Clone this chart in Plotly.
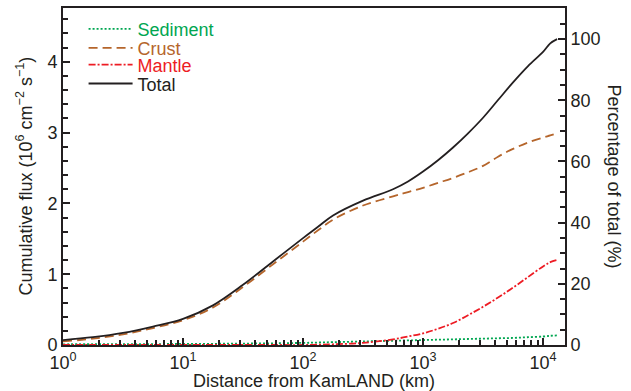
import plotly.graph_objects as go

# log10 distance (km) sample positions
log_distance = [0, 0.25, 0.5, 0.75, 1, 1.25, 1.5, 1.75, 2, 2.125, 2.25, 2.5, 2.75, 2.875,
                3, 3.125, 3.25, 3.375, 3.5, 3.625, 3.75, 3.875, 4, 4.06, 4.117]
distance_km = [10 ** v for v in log_distance]

total = [0.07, 0.11, 0.17, 0.26, 0.37, 0.56, 0.85, 1.18, 1.51, 1.67, 1.83, 2.04, 2.20, 2.31,
         2.45, 2.61, 2.79, 2.99, 3.21, 3.46, 3.71, 3.94, 4.14, 4.26, 4.32]
crust = [0.05, 0.09, 0.15, 0.24, 0.35, 0.53, 0.82, 1.14, 1.46, 1.62, 1.77, 1.97, 2.10, 2.16,
         2.22, 2.29, 2.36, 2.44, 2.53, 2.66, 2.77, 2.86, 2.93, 2.96, 2.99]
mantle = [0.0, 0.0, 0.0, 0.0, 0.0, 0.0, 0.0, 0.0, 0.0, 0.005, 0.01, 0.03, 0.08, 0.12,
          0.165, 0.23, 0.31, 0.42, 0.54, 0.67, 0.81, 0.96, 1.11, 1.17, 1.20]
sediment = [0.01, 0.011, 0.012, 0.013, 0.015, 0.017, 0.02, 0.024, 0.03, 0.035, 0.04, 0.05, 0.06, 0.065,
            0.07, 0.075, 0.08, 0.085, 0.09, 0.095, 0.1, 0.11, 0.12, 0.13, 0.135]

series_names = ["Sediment", "Crust", "Mantle", "Total"]
series_colors = ["#00a651", "#b5652b", "#ed1c24", "#231f20"]
series_dash = ["2px,2px", "9px,5px", "7px,2px,2px,2px", "solid"]
series_values = [sediment, crust, mantle, total]
legend_ids = ["legend", "legend2", "legend3", "legend4"]
legend_y = [0.937, 0.881, 0.831, 0.775]

flux_max = 4.76
total_flux = 4.32

y_major = [0, 1, 2, 3, 4]
pct_major = [0, 20, 40, 60, 80, 100]
x_major = [1, 10, 100, 1000, 10000]
x_major_text = ["10<sup>0</sup>", "10<sup>1</sup>", "10<sup>2</sup>", "10<sup>3</sup>", "10<sup>4</sup>"]
x_minor = [m * 10 ** d for d in range(0, 5) for m in range(2, 10) if m * 10 ** d < 15500]

font = "Liberation Sans, Arial, Helvetica, sans-serif"
ink = "#231f20"

fig = go.Figure()
for name, color, dash, vals, lg in zip(series_names, series_colors, series_dash, series_values, legend_ids):
    fig.add_trace(go.Scatter(
        x=distance_km, y=vals, mode="lines",
        name=f"<span style='color:{color}'>{name}</span>",
        legend=lg,
        line=dict(color=color, dash=dash, width=1.8, shape="spline", smoothing=1.0),
    ))

# invisible trace for right axis
fig.add_trace(go.Scatter(x=[1], y=[0], yaxis="y2", mode="markers",
                         marker=dict(opacity=0), showlegend=False, hoverinfo="skip"))

axis_common = dict(showline=True, linecolor=ink, linewidth=2, ticks="inside",
                   tickcolor=ink, tickwidth=1.5, showgrid=False, zeroline=False, automargin=False,
                   tickfont=dict(size=18, color=ink, family=font))

legend_common = dict(x=0.041, xanchor="left", yanchor="middle", bgcolor="rgba(0,0,0,0)",
                     font=dict(size=18, family=font), itemwidth=44, tracegroupgap=0)

layout_legends = {lg: dict(y=ly, **legend_common) for lg, ly in zip(legend_ids, legend_y)}

fig.update_layout(
    width=631, height=391,
    margin=dict(l=63, r=66, t=8, b=46, autoexpand=False),
    paper_bgcolor="white", plot_bgcolor="white",
    font=dict(family=font, size=18, color=ink),
    xaxis=dict(type="log", range=[0, 4.183], tickvals=x_major, ticktext=x_major_text,
               ticklen=7, mirror=True,
               minor=dict(ticks="inside", tickvals=x_minor, ticklen=5, tickwidth=1.5, tickcolor=ink),
               **axis_common),
    yaxis=dict(range=[0, flux_max], tickvals=y_major, ticklen=7,
               minor=dict(ticks="inside", dtick=0.2, ticklen=5, tickwidth=1.5, tickcolor=ink),
               **axis_common),
    yaxis2=dict(range=[0, flux_max / total_flux * 100], tickvals=pct_major, ticklen=7,
                overlaying="y", side="right",
                minor=dict(ticks="inside", dtick=5, ticklen=5, tickwidth=1.5, tickcolor=ink),
                **axis_common),
    showlegend=True,
    annotations=[
        dict(text="Distance from KamLAND (km)", xref="paper", yref="paper", x=0.5, y=0,
             yshift=-36, showarrow=False, xanchor="center", yanchor="middle",
             font=dict(size=18, family=font, color=ink)),
        dict(text="Cumulative flux (10<sup>6</sup> cm<sup>\u22122</sup> s<sup>\u22121</sup>)",
             textangle=-90, xref="paper", yref="paper", x=0, xshift=-38, y=0.5,
             showarrow=False, xanchor="center", yanchor="middle",
             font=dict(size=18, family=font, color=ink)),
        dict(text="Percentage of total (%)", textangle=90, xref="paper", yref="paper",
             x=1.0, xshift=49, y=0.5, showarrow=False, xanchor="center", yanchor="middle",
             font=dict(size=18, family=font, color=ink)),
    ],
    **layout_legends,
)

fig.write_html("out.html", config={"displayModeBar": False},
               post_script="document.body.style.margin='0';document.body.style.overflow='hidden';")
